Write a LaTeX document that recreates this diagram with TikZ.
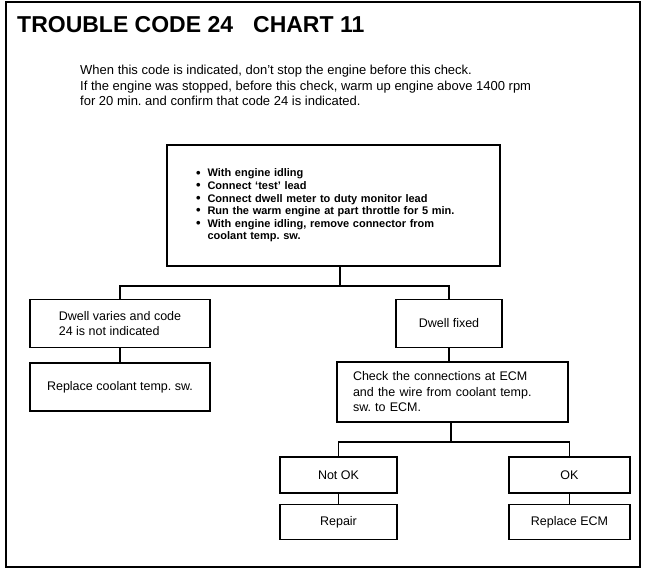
\documentclass[tikz,border=0pt]{standalone}
\usepackage{fontspec}
\setmainfont{Liberation Sans}
\usetikzlibrary{positioning}

\newcommand{\itemdot}{\raisebox{-0.3pt}{\fontsize{13}{13}\selectfont\textbullet}\hspace{7pt}}

\begin{document}
\frenchspacing
\begin{tikzpicture}[x=1pt, y=-1pt,
    box/.style={rectangle, draw=black, line width=1.5pt, inner sep=0pt,
                align=left, font=\fontsize{12.5}{15.5}\selectfont},
    link/.style={line width=1.5pt}
]
    \useasboundingbox (0,0) rectangle (645,576);
    \draw[line width=2pt] (6,2) rectangle (640,567);

    \node[anchor=base west, inner sep=0pt, font=\fontsize{23}{23}\selectfont\bfseries] (title) at (17,32)
        {TROUBLE CODE 24\hspace{20pt}CHART 11};
    \node[anchor=north west, align=left, inner sep=0pt, font=\fontsize{13}{15.5}\selectfont] (intro) at (80,65)
        {When this code is indicated, don’t stop the engine before this check.\\
         If the engine was stopped, before this check, warm up engine above 1400 rpm\\
         for 20 min. and confirm that code 24 is indicated.};

    \node[box, minimum width=333pt, minimum height=121pt, text width=275pt, inner xsep=29pt,
          font=\fontsize{11}{12.6}\selectfont\bfseries] (start) at (333.5,205.5)
        {\itemdot With engine idling\\
         \itemdot Connect ‘test’ lead\\
         \itemdot Connect dwell meter to duty monitor lead\\
         \itemdot Run the warm engine at part throttle for 5 min.\\
         \itemdot With engine idling, remove connector from\\
         \hphantom{\itemdot}coolant temp. sw.};

    \node[box, minimum width=180pt, minimum height=48pt] (dvary) at (120,323.5)
        {Dwell varies and code\\24 is not indicated};
    \node[box, minimum width=180pt, minimum height=48pt, below=14pt of dvary] (repcool)
        {Replace coolant temp. sw.};
    \node[box, minimum width=106pt, minimum height=48pt] (dfixed) at (449,323.5) {Dwell fixed};
    \node[box, minimum width=231pt, minimum height=60pt, text width=199pt, inner xsep=16pt] (conn) at (452.5,392)
        {Check the connections at ECM\\and the wire from coolant temp.\\sw. to ECM.};

    \node[box, minimum width=117pt, minimum height=36pt] (notok) at (338.5,475) {Not OK};
    \node[box, minimum width=117pt, minimum height=35pt, below=10pt of notok] (repair) {Repair};
    \node[box, minimum width=121pt, minimum height=36pt] (ok) at (569.5,475) {OK};
    \node[box, minimum width=121pt, minimum height=35pt, below=10pt of ok] (repecm) {Replace ECM};

    \coordinate (fork1) at (340,286);
    \coordinate (fork2) at (451,442);

    \draw[link] (fork1 |- start.south) -- (fork1);
    \draw[link] (dvary.north) |- (fork1) -| (dfixed.north);
    \draw[link] (dvary) -- (repcool);
    \draw[link] (dfixed.south) -- (dfixed.south |- conn.north);
    \draw[link] (fork2 |- conn.south) -- (fork2);
    \draw[link] (notok.north) |- (fork2) -| (ok.north);
    \draw[link] (notok) -- (repair);
    \draw[link] (ok) -- (repecm);
\end{tikzpicture}
\end{document}
